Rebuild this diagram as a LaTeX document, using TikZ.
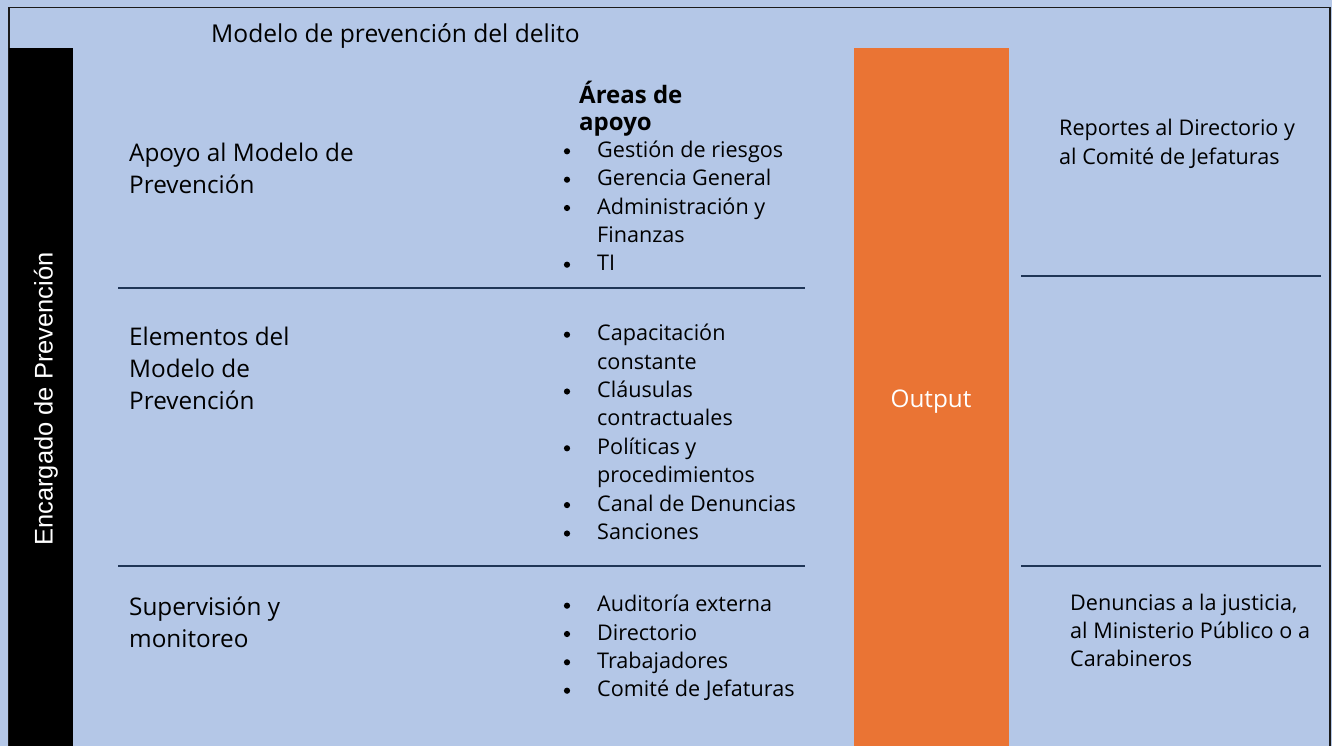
\documentclass[tikz,border=0pt]{standalone}
\usepackage{fontspec}
\setmainfont{Open Sans}
\newfontfamily\arialf{Liberation Sans}
\definecolor{bgblue}{HTML}{B4C7E7}
\definecolor{orng}{HTML}{EA7434}
\definecolor{navy}{HTML}{1F3556}
\definecolor{frame}{HTML}{1A1A1A}
\newcommand\bulitem[3]{\fill (567,{#2-6}) circle (3.1pt);
  \node[itm] (#1) at (597,#2) {#3};}
\newcommand\contitem[3]{\node[itm] (#1) at (597,#2) {#3};}
\begin{document}
\begin{tikzpicture}[x=1pt,y=-1pt,
  lbl/.style={anchor=base west, inner sep=0pt, font=\fontsize{24.3}{28}\selectfont},
  itm/.style={anchor=base west, inner sep=0pt, font=\fontsize{21.6}{25}\selectfont},
  sepline/.style={draw=navy, line width=2pt}]
\fill[bgblue] (0,0) rectangle (1332,746);
\useasboundingbox (0,0) rectangle (1332,746);
% frame
\coordinate (fbl) at (9,746);
\coordinate (ftl) at (9,7.5);
\coordinate (ftr) at (1330,7.5);
\coordinate (fbr) at (1330,746);
\draw[line width=1.6pt, draw=frame] (fbl) -- (ftl) -- (ftr) -- (fbr);
% bars
\fill[black] (9,48) rectangle (73,746);
\fill[orng] (854,48) rectangle (1009,746);
\node[rotate=90, anchor=base, inner sep=0pt, text=white, font=\arialf\fontsize{25.5}{30}\selectfont] (enc) at (52.5,399) {Encargado de Prevención};
\node[anchor=base, inner sep=0pt, text=white, font=\fontsize{24.3}{28}\selectfont] (out) at (931,407.5) {Output};
% title
\node[lbl, font=\fontsize{24.6}{28}\selectfont] (title) at (211,42.7) {Modelo de prevención del delito};
% left labels
\node[lbl] (a1) at (129,161.7) {Apoyo al Modelo de};
\node[lbl] (a2) at (129,193.4) {Prevención};
\node[lbl] (e1) at (129,345.7) {Elementos del};
\node[lbl] (e2) at (129,377.4) {Modelo de};
\node[lbl] (e3) at (129,409) {Prevención};
\node[lbl] (s1) at (129,615.7) {Supervisión y};
\node[lbl] (s2) at (129,647.4) {monitoreo};
% heading
\node[lbl, font=\bfseries\fontsize{24}{28}\selectfont] (h1) at (579,103.3) {Áreas de};
\node[lbl, font=\bfseries\fontsize{24}{28}\selectfont] (h2) at (579,131) {apoyo};
% bullets
\bulitem{b1}{157.3}{Gestión de riesgos}
\bulitem{b2}{185.7}{Gerencia General}
\bulitem{b3}{214}{Administración y}
\contitem{b3c}{242.3}{Finanzas}
\bulitem{b4}{270.7}{TI}
\bulitem{c1}{340.7}{Capacitación}
\contitem{c1c}{369.1}{constante}
\bulitem{c2}{397.5}{Cláusulas}
\contitem{c2c}{425.9}{contractuales}
\bulitem{c3}{454.3}{Políticas y}
\contitem{c3c}{482.7}{procedimientos}
\bulitem{c4}{511.1}{Canal de Denuncias}
\bulitem{c5}{539.5}{Sanciones}
\bulitem{d1}{611.7}{Auditoría externa}
\bulitem{d2}{640}{Directorio}
\bulitem{d3}{668.3}{Trabajadores}
\bulitem{d4}{696.7}{Comité de Jefaturas}
% right texts
\node[itm] (r1) at (1059,136) {Reportes al Directorio y};
\node[itm] (r2) at (1059,164.3) {al Comité de Jefaturas};
\node[itm] (q1) at (1070,610) {Denuncias a la justicia,};
\node[itm] (q2) at (1070,638.3) {al Ministerio Público o a};
\node[itm] (q3) at (1070,666.7) {Carabineros};
% separators
\coordinate (l1a) at (118,288); \coordinate (l1b) at (805,288);
\coordinate (l2a) at (118,566); \coordinate (l2b) at (805,566);
\coordinate (r1a) at (1021,276); \coordinate (r1b) at (1321,276);
\coordinate (r2a) at (1021,566); \coordinate (r2b) at (1321,566);
\draw[sepline] (l1a) -- (l1b);
\draw[sepline] (l2a) -- (l2b);
\draw[sepline] (r1a) -- (r1b);
\draw[sepline] (r2a) -- (r2b);
\end{tikzpicture}
\end{document}
